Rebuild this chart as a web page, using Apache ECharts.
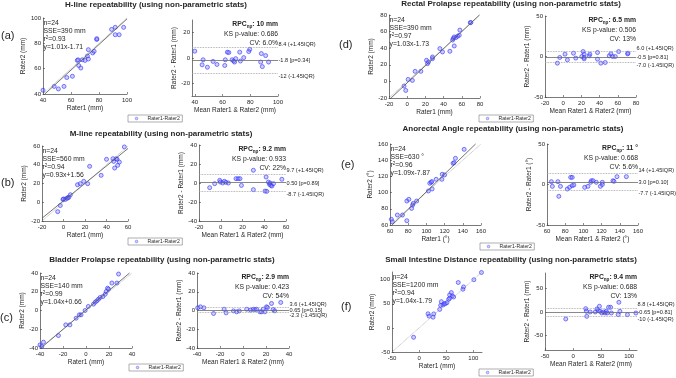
<!DOCTYPE html>
<html>
<head>
<meta charset="utf-8">
<script src="https://cdn.jsdelivr.net/npm/echarts@6/dist/echarts.min.js"></script>
<style>
  html, body { margin: 0; padding: 0; background: #fff; }
  #chart { width: 676px; height: 378px; }
</style>
</head>
<body>
<div id="chart"></div>
<script>
// ---- data ----
// (a) H-line
const hlineRater1 = [40, 48, 51, 55, 57, 61, 64.5, 65, 65.5, 67, 68, 70, 71.7, 72.4, 72.4, 75.5, 76.5, 78.4, 78.4, 89, 91.6, 91.6, 94.4, 97.6];
const hlineRater2 = [43, 46, 44, 46, 53, 54, 66.5, 67, 62.5, 60.5, 67, 66.5, 70, 75, 67.6, 72.4, 73.7, 83, 83.7, 91, 92.6, 86.8, 86.8, 92.6];
const hlineMean = [40, 45.3, 46, 49.1, 53.2, 56, 61.6, 62, 63.5, 64.5, 66.9, 68, 68.7, 69.5, 72.4, 72.9, 75.3, 78.9, 79.6, 87.5, 88, 88.7, 91.1, 93.2];
const hlineDiff = [5.4, -5.4, -1.4, -7.3, -2.7, -5.1, -5.9, -1.4, 4.6, 4.3, -1.4, -2.4, -3.2, -0.5, 4.6, -2.4, 0.3, 5.1, 6.8, -3.2, 3.5, -6.8, 1.9, -3.2];
const hlineFit = [1.01, -1.71];
const hlineLimits = [8.4, -1.8, -12];

// (b) M-line
const mlineRater1 = [-5.4, -3, -0.5, 0, 1.7, 3.3, 4, 5, 6.4, 13, 15.6, 18.8, 22.5, 24.3, 35, 40, 46, 46.7, 47.6, 49, 49.8, 50.4, 52, 56.6];
const mlineRater2 = [-10, -3.5, 3, 3.5, 3, 4.5, 4.5, 5.5, 8, 18.7, 19.8, 22.3, 19.8, 38.3, 28.7, 45.8, 46.5, 43.6, 36.5, 46.5, 45.8, 39.4, 42.9, 59];
const mlineMean = [-10.2, -5.6, -1, -0.4, 1.8, 3.3, 4.8, 7, 14, 16, 17.7, 19, 30, 30, 40.7, 42.3, 41.7, 43.8, 44.8, 45.4, 46, 47, 48.5, 56.2];
const mlineDiff = [-4.9, -0.7, 2.8, 1, 0, 1.8, 0.7, 0, 4.6, 4.6, 4.6, -2.5, 13.4, -7, -8.5, -8.8, 6.3, 1, -1.4, 0, -2.5, -3.2, -0.7, 3.9];
const mlineFit = [0.93, 1.56];
const mlineLimits = [9.7, 0.5, -8.7];

// (c) Bladder prolapse
const bladderRater1 = [-40, -38.5, -37, -24, -17.6, -14, -8.6, -5.8, -4.3, -0.8, 2, 6.5, 8, 9.4, 10.9, 12.3, 14.7, 16.7, 17.6, 18.7, 19.6, 22.5, 26.9, 28.3];
const bladderRater2 = [-36.7, -38.4, -33.8, -26.7, -15.3, -15.3, -8.2, -4.6, -4.6, 0, 4.3, 6.8, 8.9, 10.3, 12.1, 13.9, 14.9, 17.4, 20.3, 23.8, 22.8, 29.3, 29.3, 38.9];
const bladderMean = [-39.4, -37, -34, -25.6, -16.4, -14.7, -8.3, -5.5, -3.2, 3.2, 6.6, 8.9, 10.4, 11.8, 14.7, 16.1, 17.6, 19, 20.4, 21.3, 24.8, 26.2, 27.6, 32.8];
const bladderDiff = [2.9, 3.9, 2.9, -3.2, 1.4, -2.5, -0.4, -1.4, -0.4, 1.4, 0.4, 1.4, 1.1, 1.4, -1.4, -1.4, 1.4, -1.4, 3.9, 3.2, 7.5, 1.1, -0.4, 8.6];
const bladderFit = [1.04, 0.66];
const bladderLimits = [3.6, 0.65, -2.3];

// (d) Rectal prolapse
const rectalRater1 = [-3.5, -1.6, 1, 5.7, 8.7, 15, 21.2, 22.3, 23.4, 27.8, 27.8, 35.9, 38.8, 46.9, 49.9, 50.6, 51.7, 51.7, 53.5, 55.4, 57.2, 57.9, 69.3, 70];
const rectalRater2 = [-5.6, -10.9, 2.4, 1.2, 12.1, 12.1, 25.4, 21.4, 23.4, 27.4, 29.4, 39.5, 35.5, 36.3, 49.8, 51.8, 42.7, 53.6, 52.8, 54.4, 55.6, 61.8, 70.7, 71];
const rectalMean = [-6.4, -3.8, 2, 4.6, 11.3, 13.8, 20.4, 21.9, 23, 23, 23, 28.5, 29.3, 37.7, 37.7, 41.4, 46.2, 50.6, 52.4, 54.3, 57.2, 60.9, 70.8, 71.2];
const rectalDiff = [-8.2, -1.2, 2.9, -4.1, 4.1, -2, 0, 6.1, 2.9, -1.2, -2.9, 0.8, 2.9, 4.9, -3.3, -8.2, -7.4, 0.8, 3.3, 0, 0, 6.1, 3.3, 4.1];
const rectalFit = [1.03, -1.73];
const rectalLimits = [6.0, -0.5, -7.0];

// (e) Anorectal angle
const angleRater1 = [61.5, 62.6, 68.1, 73.7, 78.5, 78.5, 80.7, 83.7, 84.8, 85.6, 89.3, 102.2, 103.7, 105.2, 105.9, 106.3, 110.7, 117, 117.4, 120, 129.3, 130.4, 131.9, 141.5];
const angleRater2 = [67, 64, 72.3, 72.3, 65.3, 89.6, 91.7, 80.5, 84.6, 86.7, 89.6, 102, 111.5, 112.7, 113.6, 104.5, 116.4, 116.4, 122.6, 121.8, 136.1, 137, 142.3, 153.4];
const angleMean = [64.8, 65.9, 72, 73, 74.8, 82.3, 84.8, 86, 87.7, 87.7, 89.5, 101.4, 105, 108, 108.8, 110.6, 114.2, 118.7, 120.8, 120.8, 132.5, 133.6, 136.9, 147.2];
const angleDiff = [3.5, -2.3, 3.5, -14.6, -2.3, -5.6, -3.5, 8.8, 8.8, -1.4, -0.6, -3.5, -2.3, 2.7, 4.7, 4.7, 2.7, -2.3, 2.7, 0, 4.7, 3.9, 9.7, 9.7];
const angleFit = [1.09, -7.87];
const angleLimits = [14, 3.0, -7.7];

// (f) Small intestine distance
const intestineRater1 = [-10.2, 16.5, 18.4, 25.7, 27, 38, 39.8, 41, 44, 46, 48.4, 51.4, 54.5, 56.3, 56.3, 59.4, 61.2, 63.7, 72.2, 80.8, 82, 101, 115];
const intestineRater2 = [-19.5, 29.3, 24.4, 22.3, 29, 38.4, 46.8, 54.4, 47.5, 50.2, 50.2, 52.3, 59.3, 61.4, 68.4, 73.3, 66.3, 64.2, 94.2, 80.3, 85.1, 100, 115];
const intestineMean = [-13, 22.6, 23.8, 24.4, 30.5, 39.6, 42.7, 45.1, 47, 48.2, 51.2, 54.3, 57.3, 59.1, 61, 63.4, 67, 68.3, 80.5, 81.7, 83.5, 97, 112];
const intestineDiff = [-14.8, 7, 1.4, -9.2, 0, 0, 6.3, 2.8, 12, 1.4, -2.1, 0, -2.1, 1.4, -2.1, 9.9, 9.9, -2.1, -5.6, 20.4, 1.4, -5.6, -2.1];
const intestineFit = [1.04, -1.79];
const intestineLimits = [8.8, -0.65, -10];

// tick labels
const ticksA = [40, 60, 80, 100];
const ticksB = [-20, 0, 20, 40, 60];
const ticksB2 = [-40, -20, 0, 20, 40];
const ticksC = [-40, -20, 0, 20, 40];
const ticksD = [-20, 0, 20, 40, 60, 80];
const ticksE = [60, 80, 100, 120, 140, 160];
const ticksF = [-50, 0, 50, 100];
const ticksBA50 = [-50, 0, 50];
const ticksBA20 = [-20, 0, 20];

// ---- panel definitions (text + layout) ----
const panels = [
  {
    tag: '(a)', title: 'H-line repeatability (using non-parametric stats)', unit: 'mm',
    r1: hlineRater1, r2: hlineRater2, mean: hlineMean, diff: hlineDiff, fit: hlineFit, lim: hlineLimits,
    stats: ['n=24', 'SSE=390 mm', '0.93', 'y=1.01x-1.71'], rpc: '10 mm', ks: '0.686', cv: '6.0%',
    limText: ['8.4 (+1.45IQR)', '-1.8 [p=0.34]', '-12 (-1.45IQR)'],
    sc: { left: 43, top: 18, width: 84, height: 76, x: [40, 100], y: [40, 100], xt: ticksA, yt: ticksA },
    ba: { left: 192, top: 20, width: 86, height: 76, x: [38, 100], y: [-30, 30], xt: ticksA, yt: ticksBA20 },
    titlePos: [156, 5], tagPos: [1, 36], legendPos: [128, 115]
  },
  {
    tag: '(b)', title: 'M-line repeatability (using non-parametric stats)', unit: 'mm',
    r1: mlineRater1, r2: mlineRater2, mean: mlineMean, diff: mlineDiff, fit: mlineFit, lim: mlineLimits,
    stats: ['n=24', 'SSE=560 mm', '0.94', 'y=0.93x+1.56'], rpc: '9.2 mm', ks: '0.933', cv: '22%',
    limText: ['9.7 (+1.45IQR)', '0.50 [p=0.89]', '-8.7 (-1.45IQR)'],
    sc: { left: 42, top: 146, width: 86, height: 75, x: [-20, 60], y: [-20, 60], xt: ticksB, yt: ticksB },
    ba: { left: 199, top: 145, width: 87, height: 76, x: [-20, 60], y: [-40, 40], xt: ticksB, yt: ticksB2 },
    titlePos: [161, 134], tagPos: [1, 183], legendPos: [128, 238]
  },
  {
    tag: '(c)', title: 'Bladder Prolapse repeatability (using non-parametric stats)', unit: 'mm',
    r1: bladderRater1, r2: bladderRater2, mean: bladderMean, diff: bladderDiff, fit: bladderFit, lim: bladderLimits,
    stats: ['n=24', 'SSE=140 mm', '0.99', 'y=1.04x+0.66'], rpc: '2.9 mm', ks: '0.423', cv: '54%',
    limText: ['3.6 (+1.45IQR)', '0.65 [p=0.15]', '-2.3 (-1.45IQR)'],
    sc: { left: 40, top: 273, width: 92, height: 75, x: [-40, 40], y: [-40, 40], xt: ticksC, yt: ticksC },
    ba: { left: 197, top: 273, width: 92, height: 75, x: [-40, 40], y: [-40, 40], xt: ticksC, yt: ticksC },
    titlePos: [162, 260], tagPos: [0, 318], legendPos: [129, 364]
  },
  {
    tag: '(d)', title: 'Rectal Prolapse repeatability (using non-parametric stats)', unit: 'mm',
    r1: rectalRater1, r2: rectalRater2, mean: rectalMean, diff: rectalDiff, fit: rectalFit, lim: rectalLimits,
    stats: ['n=24', 'SSE=390 mm', '0.97', 'y=1.03x-1.73'], rpc: '6.5 mm', ks: '0.506', cv: '13%',
    limText: ['6.0 (+1.45IQR)', '-0.5 [p=0.81]', '-7.0 (-1.45IQR)'],
    sc: { left: 389, top: 15, width: 91, height: 83, x: [-20, 80], y: [-20, 80], xt: ticksD, yt: ticksD },
    ba: { left: 545, top: 16, width: 91, height: 81, x: [-20, 80], y: [-50, 50], xt: ticksD, yt: ticksBA50 },
    titlePos: [511, 4], tagPos: [339, 45], legendPos: [479, 115]
  },
  {
    tag: '(e)', title: 'Anorectal Angle repeatability (using non-parametric stats)', unit: '°',
    r1: angleRater1, r2: angleRater2, mean: angleMean, diff: angleDiff, fit: angleFit, lim: angleLimits,
    stats: ['n=24', 'SSE=630 °', '0.96', 'y=1.09x-7.87'], rpc: '11 °', ks: '0.668', cv: '5.6%',
    limText: ['14 (+1.45IQR)', '3.0 [p=0.10]', '-7.7 (-1.45IQR)'],
    sc: { left: 390, top: 144, width: 91, height: 81, x: [60, 160], y: [60, 160], xt: ticksE, yt: ticksE },
    ba: { left: 547, top: 144, width: 91, height: 81, x: [60, 160], y: [-50, 50], xt: ticksE, yt: ticksBA50 },
    titlePos: [513, 129], tagPos: [341, 165], legendPos: [480, 243]
  },
  {
    tag: '(f)', title: 'Small Intestine Distance repeatability (using non-parametric stats)', unit: 'mm',
    r1: intestineRater1, r2: intestineRater2, mean: intestineMean, diff: intestineDiff, fit: intestineFit, lim: intestineLimits,
    stats: ['n=24', 'SSE=1200 mm', '0.94', 'y=1.04x-1.79'], rpc: '9.4 mm', ks: '0.688', cv: '13%',
    limText: ['8.8 (+1.45IQR)', '-0.65 [p=0.81]', '-10 (-1.45IQR)'],
    sc: { left: 392, top: 272, width: 90, height: 80, x: [-50, 116], y: [-50, 116], xt: ticksF, yt: ticksF },
    ba: { left: 545, top: 273, width: 92, height: 77, x: [-50, 114], y: [-80, 82], xt: ticksF, yt: ticksBA50 },
    titlePos: [511, 260], tagPos: [341, 307], legendPos: [479, 369]
  }
];

const FONT = '"Liberation Sans", Arial, sans-serif';
const TXT = '#262626';
const AXC = '#404040';
const SERIES_NAME = 'Rater1-Rater2';
const markerStyle = { color: 'rgba(110,110,255,0.4)', borderColor: '#3434ff', borderWidth: 0.8 };

function zip(a, b) { return a.map((v, i) => [v, b[i]]); }

// clip y = k x + c to the axes box
function fitSegment(k, c, xr, yr) {
  const xs = [(yr[0] - c) / k, (yr[1] - c) / k];
  const xa = Math.max(xr[0], Math.min(xs[0], xs[1]));
  const xb = Math.min(xr[1], Math.max(xs[0], xs[1]));
  return [{ coord: [xa, k * xa + c] }, { coord: [xb, k * xb + c] }];
}

function makeAxis(idx, range, ticks, name, isX, gap) {
  return {
    gridIndex: idx, type: 'value', min: range[0], max: range[1],
    name: name, nameLocation: 'middle', nameGap: gap,
    nameTextStyle: { fontSize: 6.5, color: TXT, fontFamily: FONT },
    axisLine: { show: true, onZero: false, lineStyle: { color: AXC, width: 0.7 } },
    axisTick: { show: true, inside: true, length: 2, customValues: ticks, lineStyle: { color: AXC, width: 0.6 } },
    axisLabel: { fontSize: 6, color: TXT, fontFamily: FONT, margin: isX ? 3 : 2, customValues: ticks },
    splitLine: { show: false }
  };
}

const grid = [], xAxis = [], yAxis = [], series = [], legend = [];
panels.forEach((p, i) => {
  const gs = 2 * i, gb = 2 * i + 1;
  grid.push({ left: p.sc.left, top: p.sc.top, width: p.sc.width, height: p.sc.height, outerBoundsMode: 'none' });
  grid.push({ left: p.ba.left, top: p.ba.top, width: p.ba.width, height: p.ba.height, outerBoundsMode: 'none' });
  xAxis.push(makeAxis(gs, p.sc.x, p.sc.xt, 'Rater1 (' + p.unit + ')', true, 11));
  yAxis.push(makeAxis(gs, p.sc.y, p.sc.yt, 'Rater2 (' + p.unit + ')', false, 13));
  xAxis.push(makeAxis(gb, p.ba.x, p.ba.xt, 'Mean Rater1 & Rater2 (' + p.unit + ')', true, 11));
  yAxis.push(makeAxis(gb, p.ba.y, p.ba.yt, 'Rater2 - Rater1 (' + p.unit + ')', false, 12));

  const lo = Math.max(p.sc.x[0], p.sc.y[0]), hi = Math.min(p.sc.x[1], p.sc.y[1]);
  const fitLine = fitSegment(p.fit[0], p.fit[1], p.sc.x, p.sc.y);
  fitLine[0].lineStyle = { type: 'solid', color: '#505050', width: 0.8 };
  series.push({
    type: 'scatter', name: SERIES_NAME, xAxisIndex: gs, yAxisIndex: gs,
    data: zip(p.r1, p.r2), symbol: 'circle', symbolSize: 4, itemStyle: markerStyle,
    markLine: {
      silent: true, symbol: ['none', 'none'], label: { show: false },
      data: [
        [{ coord: [lo, lo], lineStyle: { type: 'dotted', color: '#9a9a9a', width: 0.8 } }, { coord: [hi, hi] }],
        fitLine
      ]
    }
  });
  series.push({
    type: 'scatter', name: SERIES_NAME, xAxisIndex: gb, yAxisIndex: gb,
    data: zip(p.mean, p.diff), symbol: 'circle', symbolSize: 4, itemStyle: markerStyle,
    markLine: {
      silent: true, symbol: ['none', 'none'], label: { show: false },
      data: [
        { yAxis: p.lim[0], lineStyle: { type: 'dotted', color: '#9a9a9a', width: 0.8 } },
        { yAxis: p.lim[1], lineStyle: { type: 'solid', color: '#6a6a6a', width: 0.8 } },
        { yAxis: p.lim[2], lineStyle: { type: 'dotted', color: '#9a9a9a', width: 0.8 } }
      ]
    }
  });
  legend.push({
    data: [{ name: SERIES_NAME, icon: 'circle' }], left: p.legendPos[0], top: p.legendPos[1], selectedMode: false,
    padding: [1, 2.5, 1, 7], itemWidth: 12, itemHeight: 2.6, itemGap: 0,
    itemStyle: { borderWidth: 0.5 },
    borderColor: '#7a7a7a', borderWidth: 0.6, borderRadius: 0,
    textStyle: { fontSize: 5.1, color: TXT, fontFamily: FONT }
  });
});

const chart = echarts.init(document.getElementById('chart'));
chart.setOption({
  animation: false,
  backgroundColor: '#fff',
  textStyle: { fontFamily: FONT },
  grid, xAxis, yAxis, series, legend
});

// ---- text overlays ----
const graphic = [];
function txt(x, y, text, opt) {
  graphic.push({
    type: 'text', silent: true, x: x, y: y,
    style: Object.assign({ text: text, fill: TXT, font: '6.8px ' + FONT, textAlign: 'left', textVerticalAlign: 'middle' }, opt || {})
  });
}
panels.forEach((p, i) => {
  txt(p.titlePos[0], p.titlePos[1], p.title, { font: 'bold 8px ' + FONT, textAlign: 'center' });
  txt(p.tagPos[0], p.tagPos[1], p.tag, { font: '11px ' + FONT });

  // regression stats (scatter, top-left)
  const sx = p.sc.left + 0.5, sy = p.sc.top + 5;
  txt(sx, sy, p.stats[0]);
  txt(sx, sy + 8, p.stats[1]);
  txt(sx, sy + 16, '{n|r}{s|2}{n|=' + p.stats[2] + '}', {
    rich: { n: { font: '6.8px ' + FONT, fill: TXT, lineHeight: 8 }, s: { font: '4.5px ' + FONT, fill: TXT, verticalAlign: 'top', lineHeight: 8 } }
  });
  txt(sx, sy + 24, p.stats[3]);

  // agreement stats (BA, top-right)
  const bx = p.ba.left + p.ba.width, by = p.ba.top + 4.5;
  txt(bx, by, '{b|RPC}{s|np}{b|: ' + p.rpc + '}', {
    textAlign: 'right',
    rich: { b: { font: 'bold 6.8px ' + FONT, fill: TXT, lineHeight: 9 }, s: { font: 'bold 4.6px ' + FONT, fill: TXT, verticalAlign: 'bottom', lineHeight: 9 } }
  });
  txt(bx, by + 9.5, 'KS p-value: ' + p.ks, { textAlign: 'right' });
  txt(bx, by + 18.5, 'CV: ' + p.cv, { textAlign: 'right' });

  // limit labels, right of the BA axes
  const offs = [-3, 0.5, 3.2];
  p.lim.forEach((v, j) => {
    const pt = chart.convertToPixel({ gridIndex: 2 * i + 1 }, [p.ba.x[1], v]);
    txt(pt[0] + 0.5, pt[1] + offs[j], p.limText[j], { font: '5.6px ' + FONT });
  });
});
chart.setOption({ graphic: graphic });
</script>
</body>
</html>
